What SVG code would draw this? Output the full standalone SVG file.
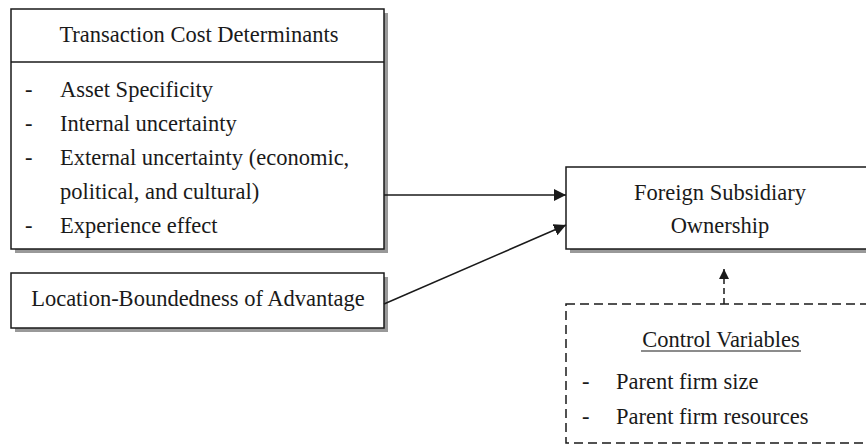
<svg xmlns="http://www.w3.org/2000/svg" width="866" height="445" viewBox="0 0 866 445">
<style>
text{font-family:"Liberation Serif","Times New Roman",serif;font-size:22.5px;fill:#1a1a1a}
.box{fill:#fff;stroke:#1a1a1a;stroke-width:1.5}
.shadow{fill:#999}
.dash{fill:none;stroke:#1a1a1a;stroke-width:1.5;stroke-dasharray:9 5}
.conn{stroke:#1a1a1a;stroke-width:1.5;fill:none}
.mid{text-anchor:middle}
</style>
<defs>
<marker id="ah" viewBox="0 0 10 10" refX="10" refY="5" markerWidth="10" markerHeight="10" markerUnits="userSpaceOnUse" orient="auto">
<path d="M0,0 L10,5 L0,10 z" fill="#1a1a1a"/>
</marker>
<marker id="ah2" viewBox="0 0 12 12" refX="12" refY="6" markerWidth="12" markerHeight="12" markerUnits="userSpaceOnUse" orient="auto">
<path d="M0,0 L12,6 L0,12 z" fill="#1a1a1a"/>
</marker>
</defs>
<rect width="866" height="445" fill="#fff"/>
<g id="tcd">
<rect class="shadow" x="15" y="13" width="373" height="240"/>
<rect class="box" x="11" y="9" width="373" height="240"/>
<line class="conn" x1="11" y1="62" x2="384" y2="62"/>
<text class="mid" x="199" y="42">Transaction Cost Determinants</text>
<text x="25" y="97">-</text><text x="60" y="97">Asset Specificity</text>
<text x="25" y="131">-</text><text x="60" y="131">Internal uncertainty</text>
<text x="25" y="165">-</text><text x="60" y="165">External uncertainty (economic,</text>
<text x="60" y="199">political, and cultural)</text>
<text x="25" y="233">-</text><text x="60" y="233">Experience effect</text>
</g>
<g id="lba">
<rect class="shadow" x="15" y="277" width="373" height="55"/>
<rect class="box" x="11" y="273" width="373" height="55"/>
<text class="mid" x="198" y="306">Location-Boundedness of Advantage</text>
</g>
<g id="fso">
<rect class="shadow" x="570" y="171" width="310" height="82"/>
<rect class="box" x="566" y="167" width="310" height="82"/>
<text class="mid" x="720" y="200">Foreign Subsidiary</text>
<text class="mid" x="720" y="233">Ownership</text>
</g>
<g id="cv">
<rect class="dash" x="566" y="304" width="310" height="139"/>
<text class="mid" x="721" y="347">Control Variables</text>
<line x1="641" y1="351" x2="801" y2="351" stroke="#1a1a1a" stroke-width="1.2"/>
<text x="582" y="389">-</text><text x="616" y="389">Parent firm size</text>
<text x="582" y="424">-</text><text x="616" y="424">Parent firm resources</text>
</g>
<g id="connectors">
<line class="conn" x1="384" y1="195" x2="566" y2="195" marker-end="url(#ah2)"/>
<line class="conn" x1="384" y1="304" x2="566" y2="225" marker-end="url(#ah2)"/>
<line class="conn" x1="724" y1="304" x2="724" y2="269" stroke-dasharray="6 4" marker-end="url(#ah)"/>
</g>
</svg>
